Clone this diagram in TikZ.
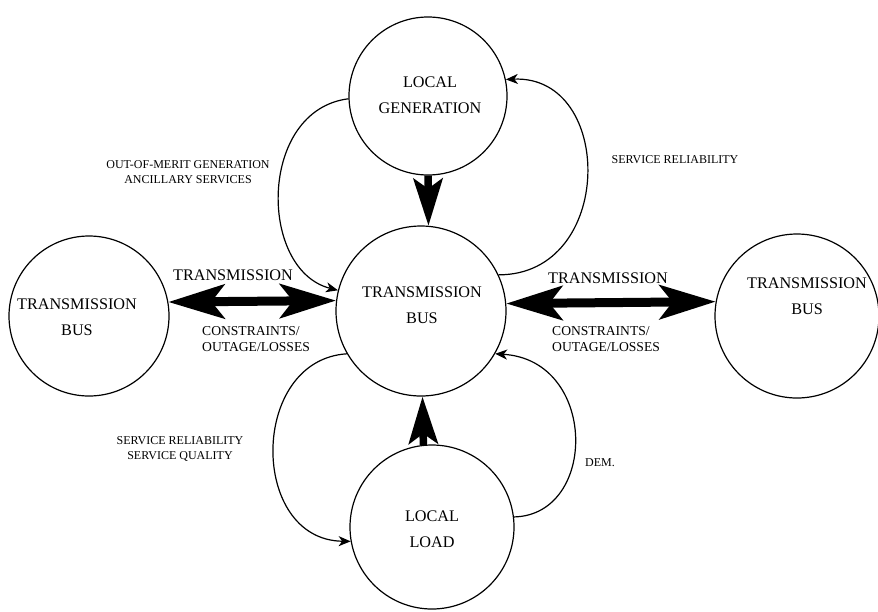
\documentclass[tikz,border=0pt]{standalone}
\usepackage{fontspec}
\setmainfont{Liberation Serif}
\usetikzlibrary{arrows.meta}
\begin{document}
\begin{tikzpicture}[x=1pt,y=-1pt,
  bubble/.style={circle,draw,line width=1.2pt,inner sep=0pt,minimum size=#1},
  big/.style={font=\fontsize{16.2}{26}\selectfont,align=center,inner sep=0pt},
  small/.style={font=\fontsize{12}{15.5}\selectfont,align=center,inner sep=0pt},
  mid/.style={font=\fontsize{13.6}{16}\selectfont,align=left,inner sep=0pt,anchor=west},
  flow/.style={line width=1.2pt,-{Stealth[length=12pt,width=10pt,inset=3.5pt]}},
  wide/.style={line width=9pt,{Stealth[length=56pt,width=34pt,inset=13pt]}-{Stealth[length=56pt,width=34pt,inset=13pt]}},
  feed/.style={line width=7.5pt,-{Stealth[length=47pt,width=29pt,inset=10pt]}}
]
\useasboundingbox (0,0) rectangle (878,611);

% buses
\node[bubble=158pt] (G) at (428,96) {};
\node[bubble=170pt] (C) at (421,311) {};
\node[bubble=164pt] (D) at (432,527) {};
\node[bubble=160pt] (L) at (89,316) {};
\node[bubble=164pt] (R) at (797,316) {};

\node[big] (gtxt) at (430,95) {LOCAL\\GENERATION};
\node[big] (ctxt) at (422,305) {TRANSMISSION\\BUS};
\node[big] (dtxt) at (432,529) {LOCAL\\LOAD};
\node[big] (ltxt) at (77,317) {TRANSMISSION\\BUS};
\node[big] (rtxt) at (807,296) {TRANSMISSION\\BUS};

% power exchange between buses
\draw[wide] (L.10.8) -- (C.173.2);
\draw[wide] (C.5.4) -- (R.170.9);
\draw[feed] (G.270) -- (C.85.3);
\draw[feed] (D.96.3) -- (C.271.3);

\node[big] (tl) at (233,275) {TRANSMISSION};
\node[big] (tr) at (608,278) {TRANSMISSION};
\node[mid] (cl) at (202,339) {CONSTRAINTS/\\OUTAGE/LOSSES};
\node[mid] (cr) at (552,339) {CONSTRAINTS/\\OUTAGE/LOSSES};

% service loops
\draw[flow] (G.182) .. controls (258,110) and (258,270) .. (C.166);
\draw[flow] (C.25) .. controls (615,275) and (615,75) .. (G.12);
\draw[flow] (C.210) .. controls (249,360) and (249,540) .. (D.190);
\draw[flow] (D.7) .. controls (598,515) and (598,360) .. (C.330);

\node[small] (oom) at (188,172) {OUT-OF-MERIT GENERATION\\ANCILLARY SERVICES};
\node[small] (srt) at (675,160) {SERVICE RELIABILITY};
\node[small] (srb) at (180,449) {SERVICE RELIABILITY\\SERVICE QUALITY};
\node[small] (dem) at (600,463) {DEM.};
\end{tikzpicture}
\end{document}
